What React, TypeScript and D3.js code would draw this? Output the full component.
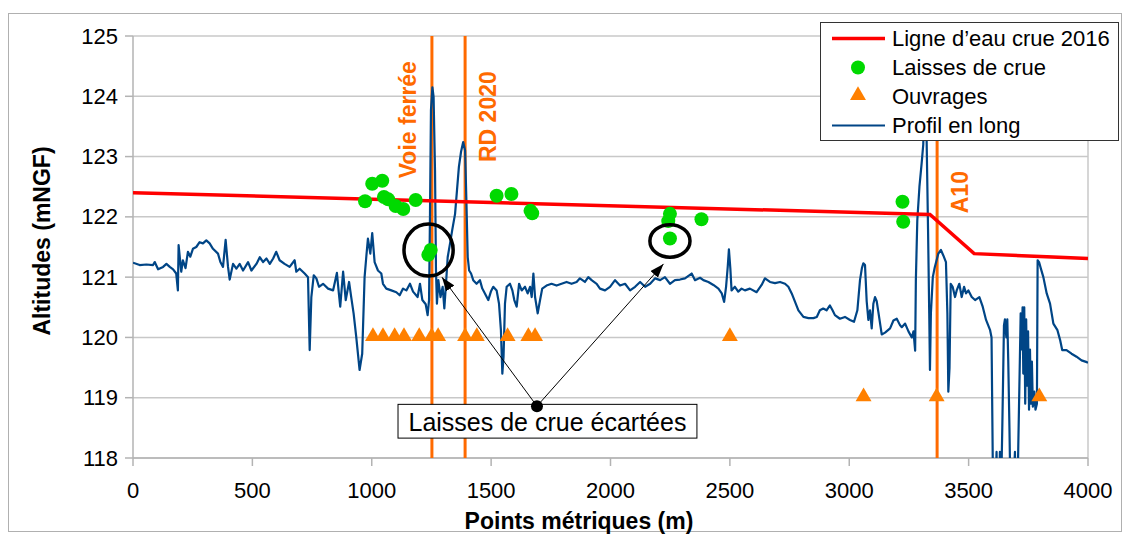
import React from "react";
import * as d3 from "d3";

// Longitudinal profile: [metric point (m), altitude (mNGF)]
const profilEnLong: [number, number][] = [
  [0, 121.24], [28, 121.2], [56, 121.21], [84, 121.2], [91, 121.25], [105, 121.13], [126, 121.17], [140, 121.22],
  [154, 121.17], [168, 121.13], [181, 121.06], [188, 120.78], [191, 121.53], [202, 121.09], [209, 121.28], [220, 121.15],
  [230, 121.42], [240, 121.34], [251, 121.47], [265, 121.5], [279, 121.58], [293, 121.56], [307, 121.61], [321, 121.56],
  [335, 121.47], [356, 121.39], [366, 121.25], [377, 121.17], [388, 121.62], [398, 121.17], [405, 120.96], [419, 121.22],
  [433, 121.14], [447, 121.22], [461, 121.11], [482, 121.25], [496, 121.11], [517, 121.22], [531, 121.33], [545, 121.25],
  [559, 121.31], [573, 121.22], [587, 121.31], [600, 121.42], [614, 121.28], [635, 121.22], [656, 121.17], [677, 121.28],
  [684, 121.09], [698, 121.14], [719, 121.06], [733, 121.0], [740, 119.79], [747, 120.67], [757, 121.03], [768, 120.98],
  [779, 120.84], [796, 120.89], [817, 120.81], [838, 120.78], [854, 121.07], [863, 120.7], [868, 120.51], [880, 121.09],
  [891, 120.62], [905, 120.92], [914, 120.67], [924, 120.4], [935, 120.01], [949, 119.46], [960, 119.73], [970, 121.0],
  [977, 121.33], [984, 121.64], [994, 121.39], [1002, 121.73], [1012, 121.25], [1026, 121.11], [1040, 121.06], [1047, 120.89],
  [1061, 120.81], [1082, 120.78], [1103, 120.75], [1117, 120.7], [1131, 120.81], [1145, 120.78], [1160, 120.89], [1173, 120.76],
  [1192, 120.67], [1202, 120.89], [1212, 120.62], [1226, 120.55], [1234, 120.37], [1240, 120.62], [1244, 122.06], [1248, 123.77],
  [1254, 124.15], [1259, 123.99], [1265, 122.77], [1269, 121.11], [1273, 120.56], [1279, 120.95], [1288, 120.67], [1297, 120.84],
  [1304, 120.48], [1311, 120.89], [1318, 121.33], [1328, 121.56], [1337, 121.78], [1349, 122.05], [1357, 122.44], [1365, 122.83],
  [1374, 123.08], [1383, 123.24], [1391, 123.1], [1396, 122.33], [1402, 121.33], [1408, 121.11], [1416, 121.06], [1425, 120.95],
  [1439, 120.89], [1453, 120.95], [1463, 120.81], [1474, 120.73], [1488, 120.62], [1499, 120.76], [1509, 120.84], [1523, 120.78],
  [1533, 120.56], [1541, 120.12], [1547, 119.4], [1552, 119.68], [1558, 120.56], [1565, 120.84], [1579, 120.89], [1589, 120.78],
  [1597, 120.62], [1607, 120.51], [1617, 120.89], [1628, 120.78], [1642, 120.84], [1653, 120.73], [1663, 120.84], [1670, 120.67],
  [1677, 121.06], [1684, 120.67], [1695, 120.4], [1705, 120.62], [1714, 120.81], [1732, 120.86], [1753, 120.89], [1774, 120.86],
  [1795, 120.89], [1816, 120.92], [1837, 120.89], [1858, 120.92], [1872, 120.98], [1893, 120.92], [1907, 121.0], [1921, 120.95],
  [1942, 120.89], [1956, 120.81], [1977, 120.78], [1998, 120.84], [2019, 120.95], [2040, 120.86], [2061, 120.89], [2082, 120.78],
  [2103, 120.84], [2124, 120.92], [2145, 120.84], [2166, 120.89], [2187, 120.98], [2208, 120.95], [2228, 121.0], [2249, 120.89],
  [2270, 120.95], [2291, 120.96], [2312, 120.98], [2340, 121.06], [2354, 120.95], [2375, 120.99], [2389, 120.95], [2410, 120.92],
  [2431, 120.87], [2452, 120.81], [2466, 120.73], [2476, 120.59], [2484, 120.84], [2491, 121.17], [2496, 121.46], [2502, 121.14],
  [2507, 120.78], [2521, 120.84], [2535, 120.76], [2549, 120.81], [2563, 120.78], [2584, 120.81], [2612, 120.75], [2633, 120.87],
  [2647, 120.98], [2668, 120.92], [2689, 120.9], [2710, 120.92], [2731, 120.89], [2745, 120.84], [2759, 120.73], [2773, 120.59],
  [2787, 120.45], [2808, 120.34], [2829, 120.32], [2850, 120.32], [2864, 120.34], [2877, 120.45], [2891, 120.48], [2905, 120.45],
  [2919, 120.53], [2930, 120.45], [2940, 120.37], [2961, 120.31], [2982, 120.34], [3003, 120.29], [3020, 120.26], [3034, 120.45],
  [3045, 120.95], [3053, 121.15], [3059, 121.23], [3066, 121.2], [3073, 120.6], [3080, 120.29], [3087, 120.45], [3094, 120.15],
  [3101, 120.56], [3108, 120.67], [3115, 120.6], [3122, 120.42], [3136, 120.05], [3150, 120.08], [3171, 120.15], [3185, 120.28],
  [3199, 120.31], [3213, 120.2], [3220, 120.17], [3234, 120.23], [3248, 120.1], [3262, 120.0], [3269, 120.1], [3276, 119.78],
  [3279, 120.95], [3285, 121.94], [3294, 122.5], [3303, 122.88], [3310, 123.2], [3315, 124.0], [3320, 124.3], [3324, 123.3],
  [3330, 121.8], [3335, 120.4], [3338, 119.46], [3342, 120.4], [3350, 121.0], [3358, 121.16], [3373, 121.39], [3384, 121.45],
  [3394, 121.36], [3405, 121.25], [3411, 120.4], [3415, 119.1], [3420, 119.5], [3425, 120.89], [3433, 120.84], [3443, 120.67],
  [3450, 120.78], [3461, 120.89], [3471, 120.67], [3481, 120.84], [3489, 120.73], [3499, 120.78], [3513, 120.67], [3527, 120.62],
  [3545, 120.67], [3559, 120.51], [3573, 120.29], [3590, 120.12], [3596, 120.0], [3603, 117.2], [3610, 116.9], [3617, 118.1],
  [3620, 117.0], [3627, 117.0], [3631, 118.1], [3635, 117.2], [3641, 118.5], [3648, 120.2], [3652, 120.3], [3658, 120.0],
  [3662, 120.3], [3666, 119.6], [3671, 118.5], [3676, 117.2], [3682, 116.9], [3688, 117.5], [3694, 118.1], [3697, 117.0],
  [3703, 117.0], [3708, 118.2], [3714, 119.5], [3718, 120.4], [3722, 119.8], [3726, 120.5], [3729, 119.4], [3733, 120.5],
  [3737, 118.9], [3741, 120.3], [3745, 119.2], [3749, 120.1], [3753, 118.8], [3757, 119.8], [3761, 118.9], [3765, 119.6],
  [3769, 118.85], [3775, 119.1], [3780, 118.8], [3786, 118.9], [3789, 121.28], [3795, 121.25], [3802, 121.15], [3813, 121.0],
  [3827, 120.73], [3841, 120.56], [3855, 120.23], [3872, 120.12], [3883, 119.96], [3892, 119.79], [3910, 119.79], [3931, 119.73],
  [3952, 119.68], [3973, 119.62], [3995, 119.59], [4000, 119.58],
];

// 2016 flood water line
const ligneEau: [number, number][] = [[0, 122.4], [3338, 122.04], [3523, 121.39], [4000, 121.31]];

// Flood marks
const laissesDeCrue: [number, number][] = [
  [972, 122.26], [1002, 122.55], [1044, 122.6], [1051, 122.33], [1069, 122.29], [1100, 122.18], [1132, 122.13],
  [1184, 122.28], [1237, 121.37], [1247, 121.45], [1523, 122.35], [1585, 122.38], [1665, 122.1], [1672, 122.06],
  [2242, 121.93], [2249, 122.05], [2381, 121.96], [2249, 121.64], [3223, 122.25], [3226, 121.92],
];

// Structures
const ouvrages: [number, number][] = [
  [1005, 120], [1047, 120], [1096, 120], [1135, 120], [1199, 120], [1251, 120], [1278, 120], [1391, 120],
  [1440, 120], [1569, 120], [1656, 120], [1684, 120], [2500, 120], [3060, 119], [3366, 119], [3796, 119],
];

// Crossing infrastructures (vertical markers)
const infraNames = ["Voie ferrée", "RD 2020", "A10"];
const infraPositions = [1252, 1391, 3368];
const infraLabelAlt = [122.64, 122.91, 122.06];
const infraLabelSide = ["left", "right", "right"];

const xTicks = [0, 500, 1000, 1500, 2000, 2500, 3000, 3500, 4000];
const yTicks = [118, 119, 120, 121, 122, 123, 124, 125];

const legendLabels = ["Ligne d\u2019eau crue 2016", "Laisses de crue", "Ouvrages", "Profil en long"];

// Discarded flood marks callout
const calloutText = "Laisses de crue écartées";
const calloutAnchor: [number, number] = [1692, 118.86];
const calloutTargets: [number, number][] = [[1294, 121.0], [2222, 121.22]];
const calloutRings = [
  { cx: 1238, cy: 121.45, rx: 103, ry: 0.43 },
  { cx: 2249, cy: 121.6, rx: 84, ry: 0.27 },
];
const calloutBox = { x0: 1110, x1: 2362, y0: 118.89, y1: 118.33 };

const FONT = "'Liberation Sans', Arial, sans-serif";
const ORANGE_LINE = "#ff6a00";
const ORANGE_MARK = "#ff8000";
const GREEN = "#00d900";
const RED = "#ff0000";
const BLUE = "#004586";
const GRID = "#c8c8c8";

const W = 1131;
const H = 536;
const plot = { left: 133, right: 1088, top: 36, bottom: 458 };

export default function App() {
  const x = d3.scaleLinear().domain([0, 4000]).range([plot.left, plot.right]);
  const y = d3.scaleLinear().domain([118, 125]).range([plot.bottom, plot.top]);
  const line = d3.line<[number, number]>().x((d) => x(d[0])).y((d) => y(d[1]));
  const tri = d3.symbol().type(d3.symbolTriangle).size(110)() as string;

  const legendX = 820.5;
  const legendY = 22.5;
  const rowY = (i: number) => legendY + 16 + i * 29;

  return (
    <svg
      width={W}
      height={H}
      style={{ position: "absolute", left: 0, top: 0, background: "#fff" }}
      fontFamily={FONT}
    >
      <defs>
        <clipPath id="plotClip">
          <rect x={plot.left} y={plot.top} width={plot.right - plot.left} height={plot.bottom - plot.top} />
        </clipPath>
        <marker id="arrowHead" viewBox="0 0 14 10" refX="14" refY="5" markerWidth="14" markerHeight="10"
          markerUnits="userSpaceOnUse" orient="auto">
          <path d="M0,0 L14,5 L0,10 Z" fill="#000" />
        </marker>
      </defs>

      {/* outer frame */}
      <rect x={8.5} y={13.5} width={1113} height={518} fill="#fff" stroke="#b0b0b0" strokeWidth={1} />

      {/* grid */}
      {yTicks.map((t) => (
        <line key={"g" + t} x1={plot.left} x2={plot.right} y1={y(t)} y2={y(t)} stroke={GRID} strokeWidth={1.5} />
      ))}
      <line x1={plot.right} x2={plot.right} y1={plot.top} y2={plot.bottom} stroke={GRID} strokeWidth={1.5} />

      {/* axes */}
      <line x1={plot.left} x2={plot.left} y1={plot.top} y2={plot.bottom} stroke="#b3b3b3" strokeWidth={1.5} />
      <line x1={plot.left} x2={plot.right} y1={plot.bottom} y2={plot.bottom} stroke="#b3b3b3" strokeWidth={1.5} />
      {yTicks.map((t) => (
        <g key={"yt" + t}>
          <line x1={plot.left - 8} x2={plot.left} y1={y(t)} y2={y(t)} stroke="#b3b3b3" strokeWidth={1.5} />
          <text x={plot.left - 15} y={y(t)} textAnchor="end" dominantBaseline="central" fontSize={22} fill="#000">
            {t}
          </text>
        </g>
      ))}
      {xTicks.map((t) => (
        <g key={"xt" + t}>
          <line x1={x(t)} x2={x(t)} y1={plot.bottom} y2={plot.bottom + 8} stroke="#b3b3b3" strokeWidth={1.5} />
          <text x={x(t)} y={plot.bottom + 32} textAnchor="middle" dominantBaseline="central" fontSize={22} fill="#000">
            {t}
          </text>
        </g>
      ))}
      <text x={579} y={521} textAnchor="middle" dominantBaseline="central"
        fontSize={23} fontWeight="bold" fill="#000">
        Points métriques (m)
      </text>
      <text transform={`translate(42,241) rotate(-90)`} textAnchor="middle"
        dominantBaseline="central" fontSize={23} fontWeight="bold" fill="#000">
        Altitudes (mNGF)
      </text>

      {/* infrastructure markers */}
      {infraPositions.map((p, i) => (
        <g key={"inf" + i}>
          <line x1={x(p)} x2={x(p)} y1={plot.top} y2={plot.bottom} stroke={ORANGE_LINE} strokeWidth={3} />
          <text
            transform={`translate(${x(p) + (infraLabelSide[i] === "left" ? -16 : 31)},${y(infraLabelAlt[i])}) rotate(-90)`}
            textAnchor="start" fontSize={23} fontWeight="bold" fill={ORANGE_LINE}>
            {infraNames[i]}
          </text>
        </g>
      ))}

      <g clipPath="url(#plotClip)">
        <path d={line(profilEnLong) || ""} fill="none" stroke={BLUE} strokeWidth={2.2} strokeLinejoin="round" />
        <path d={line(ligneEau) || ""} fill="none" stroke={RED} strokeWidth={3.5} />
        {laissesDeCrue.map((d, i) => (
          <circle key={"l" + i} cx={x(d[0])} cy={y(d[1])} r={7} fill={GREEN} />
        ))}
        {ouvrages.map((d, i) => (
          <path key={"o" + i} d={tri} transform={`translate(${x(d[0])},${y(d[1]) - 1})`} fill={ORANGE_MARK} />
        ))}
      </g>

      {/* callout */}
      {calloutRings.map((c, i) => (
        <ellipse key={"r" + i} cx={x(c.cx)} cy={y(c.cy)} rx={x(c.rx) - x(0)} ry={y(125 - c.ry) - y(125)}
          fill="none" stroke="#000" strokeWidth={3.5} />
      ))}
      <rect x={x(calloutBox.x0)} y={y(calloutBox.y0)} width={x(calloutBox.x1) - x(calloutBox.x0)}
        height={y(calloutBox.y1) - y(calloutBox.y0)} fill="#fff" stroke="#000" strokeWidth={1} />
      <text x={(x(calloutBox.x0) + x(calloutBox.x1)) / 2} y={(y(calloutBox.y0) + y(calloutBox.y1)) / 2 + 1}
        textAnchor="middle" dominantBaseline="central" fontSize={25} fill="#000">
        {calloutText}
      </text>
      {calloutTargets.map((t, i) => (
        <line key={"a" + i} x1={x(calloutAnchor[0])} y1={y(calloutAnchor[1])} x2={x(t[0])} y2={y(t[1])}
          stroke="#000" strokeWidth={1} markerEnd="url(#arrowHead)" />
      ))}
      <circle cx={x(calloutAnchor[0])} cy={y(calloutAnchor[1])} r={6} fill="#000" />

      {/* legend */}
      <rect x={legendX} y={legendY} width={298} height={118} fill="#fff" stroke="#333" strokeWidth={1} />
      <line x1={832} x2={885} y1={rowY(0)} y2={rowY(0)} stroke={RED} strokeWidth={3.5} />
      <circle cx={858} cy={rowY(1)} r={7} fill={GREEN} />
      <path d={tri} transform={`translate(858,${rowY(2) - 1})`} fill={ORANGE_MARK} />
      <line x1={832} x2={885} y1={rowY(3)} y2={rowY(3)} stroke={BLUE} strokeWidth={2} />
      {legendLabels.map((l, i) => (
        <text key={"lg" + i} x={892} y={rowY(i)} dominantBaseline="central" fontSize={22} fill="#000">
          {l}
        </text>
      ))}
    </svg>
  );
}
